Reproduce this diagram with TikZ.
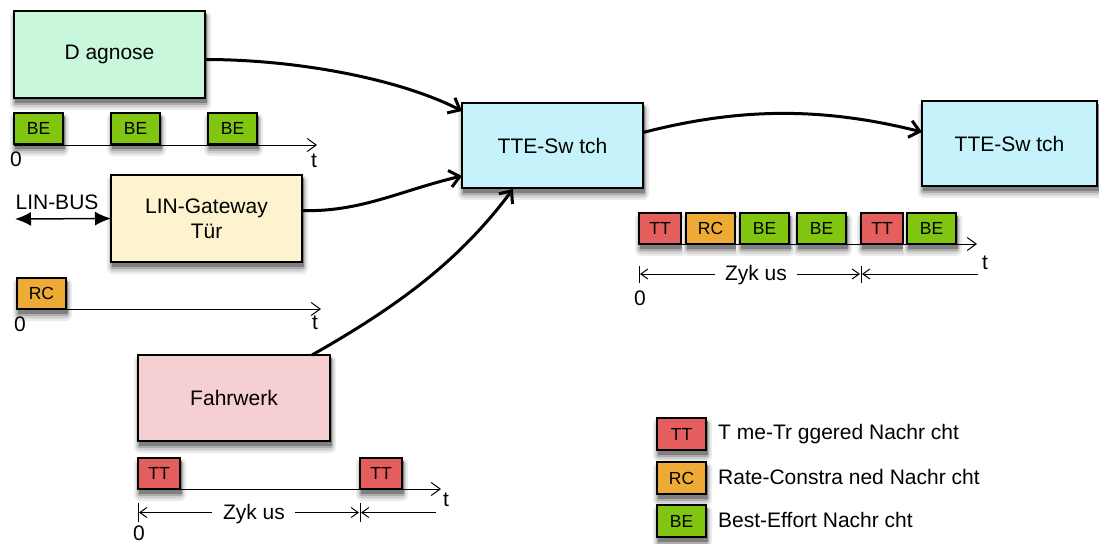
\documentclass[tikz,border=0pt]{standalone}
\usepackage{fontspec}
\setmainfont{Liberation Sans}
\usetikzlibrary{arrows.meta}
\pgfdeclarelayer{bg}
\pgfsetlayers{bg,main}
\definecolor{cdiag}{HTML}{C9F7DC}
\definecolor{cgate}{HTML}{FDF3CF}
\definecolor{cfahr}{HTML}{F5CFD1}
\definecolor{csw}{HTML}{C6F3FB}
\definecolor{ctt}{HTML}{E35E5C}
\definecolor{crc}{HTML}{EDAA34}
\definecolor{cbe}{HTML}{80C610}
\newcommand\myshadow[1]{%
  \fill[black!8,rounded corners=6pt] ([xshift=-4pt,yshift=-12pt]#1.south west) rectangle ([xshift=6pt,yshift=0pt]#1.north east);
  \fill[black!18,rounded corners=4pt] ([xshift=-2pt,yshift=-9.5pt]#1.south west) rectangle ([xshift=4pt,yshift=-2pt]#1.north east);
  \fill[black!32,rounded corners=2pt] ([xshift=-0.5pt,yshift=-7pt]#1.south west) rectangle ([xshift=2.5pt,yshift=-3pt]#1.north east);
  \fill[black!50] ([xshift=0.5pt,yshift=-4.5pt]#1.south west) rectangle ([xshift=1.5pt,yshift=-3pt]#1.north east);}
\begin{document}
\begin{tikzpicture}[x=1pt,y=-1pt,
  box/.style={draw=black,line width=1.4pt,inner sep=0pt,outer sep=0pt,anchor=north west,
    font=\fontsize{21}{25}\selectfont,align=center},
  msg/.style={draw=black,line width=1.2pt,inner sep=0pt,outer sep=0pt,anchor=north west,
    minimum height=31pt,font=\fontsize{17.5}{20}\selectfont},
  tt/.style={msg,fill=ctt,minimum width=42pt},
  rc/.style={msg,fill=crc,minimum width=49pt},
  be/.style={msg,fill=cbe,minimum width=49pt},
  lbl/.style={font=\fontsize{21}{25}\selectfont,inner sep=0pt},
  conn/.style={line width=3pt,-{Straight Barb[length=10pt,width=17pt,line width=3pt]}},
  axis/.style={line width=1pt,-{Straight Barb[length=9pt,width=13pt,line width=1pt]}},
  dim/.style={line width=1pt,-{Straight Barb[length=7pt,width=10pt,line width=1pt]}},
  tick/.style={line width=1pt},
]
\useasboundingbox (0,0) rectangle (1099,543);

% main boxes
\node[box,fill=cdiag,minimum width=191pt,minimum height=87pt] (diag) at (14,11) {D agnose};
\node[box,fill=cgate,minimum width=191pt,minimum height=87pt] (gate) at (111,175) {LIN-Gateway\\Tür};
\node[box,fill=cfahr,minimum width=192pt,minimum height=86pt] (fahr) at (138,355) {Fahrwerk};
\node[box,fill=csw,minimum width=181pt,minimum height=85pt] (sw1) at (462,103) {TTE-Sw tch};
\node[box,fill=csw,minimum width=175pt,minimum height=85pt] (sw2) at (922,101) {TTE-Sw tch};

% connectors
\draw[conn] ([yshift=-5pt]diag.east) .. controls +(95,0) and +(-60,-31) .. ([yshift=-8pt]sw1.north west);
\draw[conn] ([yshift=8pt]gate.east) .. controls +(58,2) and +(-60,14) .. ([yshift=12pt]sw1.south west);
\draw[conn] ([xshift=-18pt]fahr.north east) .. controls +(88,-50) and +(-53,71) .. ([xshift=51pt,yshift=-1pt]sw1.south west);
\draw[conn] ([yshift=13pt]sw1.east) .. controls +(97,-25) and +(-100,-25) .. ([yshift=11.5pt]sw2.west);

% LIN-BUS
\coordinate (busl) at (15,219);
\node[lbl] (busltxt) at (57,202) {LIN-BUS};
\draw[line width=1.5pt,{Latex[length=16pt,width=14pt]}-{Latex[length=16pt,width=14pt]}] (busl) -- (gate.west);

% timeline 1: Diagnose
\coordinate (a1) at (317,145);
\draw[axis] (14,145) -- (a1);
\node[be] (d1) at (14,113) {BE};
\node[be] (d2) at (111,113) {BE};
\node[be] (d3) at (208,113) {BE};
\node[lbl] (z1) at (16,159) {0};
\node[lbl] (t1) at (314,161) {t};

% timeline 2: LIN
\coordinate (a2) at (321,309);
\draw[axis] (17,309) -- (a2);
\node[rc] (l1) at (17,278) {RC};
\node[lbl] (z2) at (20,324) {0};
\node[lbl] (t2) at (315,323) {t};

% timeline 3: Fahrwerk
\coordinate (a3) at (441,489);
\draw[axis] (138,489) -- (a3);
\node[tt] (f1) at (138,458) {TT};
\node[tt] (f2) at (360,458) {TT};
\node[lbl] (z3) at (139,533) {0};
\node[lbl] (t3) at (446,500) {t};
\coordinate (f3a) at (138,503); \coordinate (f3b) at (138,522);
\coordinate (f4a) at (360,503); \coordinate (f4b) at (360,522);
\draw[tick] (f3a) -- (f3b);
\draw[tick] (f4a) -- (f4b);
\node[lbl] (zy1) at (254,514) {Zyk us};
\coordinate (f5) at (139,512.5);
\coordinate (f6) at (359,512.5);
\coordinate (f7) at (361,512.5);
\coordinate (f8) at (436,512.5);
\draw[dim] (212,512.5) -- (f5);
\draw[dim] (295,512.5) -- (f6);
\draw[dim] (f8) -- (f7);

% timeline 4: switch output
\coordinate (a4) at (977,244);
\draw[axis] (639,244) -- (a4);
\node[tt] (s1) at (639,213) {TT};
\node[rc] (s2) at (686,213) {RC};
\node[be] (s3) at (740,213) {BE};
\node[be] (s4) at (797,213) {BE};
\node[tt] (s5) at (861,213) {TT};
\node[be] (s6) at (907,213) {BE};
\node[lbl] (z4) at (640,298) {0};
\node[lbl] (t4) at (985,263) {t};
\coordinate (g1a) at (639,266); \coordinate (g1b) at (639,283);
\coordinate (g2a) at (861,266); \coordinate (g2b) at (861,283);
\draw[tick] (g1a) -- (g1b);
\draw[tick] (g2a) -- (g2b);
\node[lbl] (zy2) at (756,275) {Zyk us};
\coordinate (g5) at (640,274);
\coordinate (g6) at (860,274);
\coordinate (g7) at (862,274);
\coordinate (g8) at (978,274);
\draw[dim] (715,274) -- (g5);
\draw[dim] (797,274) -- (g6);
\draw[dim] (g8) -- (g7);

% legend
\node[tt,minimum width=49pt,minimum height=32pt] (lg1) at (657,418) {TT};
\node[rc,minimum height=32pt] (lg2) at (657,462) {RC};
\node[be,minimum height=32pt] (lg3) at (657,505) {BE};
\node[lbl,anchor=west] (lt1) at (718,434) {T me-Tr ggered Nachr cht};
\node[lbl,anchor=west] (lt2) at (718,477) {Rate-Constra ned Nachr cht};
\node[lbl,anchor=west] (lt3) at (718,520) {Best-Effort Nachr cht};

% shadows
\begin{pgfonlayer}{bg}
\foreach \n in {diag,gate,fahr,sw1,sw2,d1,d2,d3,l1,f1,f2,s1,s2,s3,s4,s5,s6,lg1,lg2,lg3}{\myshadow{\n}}
\end{pgfonlayer}
\end{tikzpicture}
\end{document}
